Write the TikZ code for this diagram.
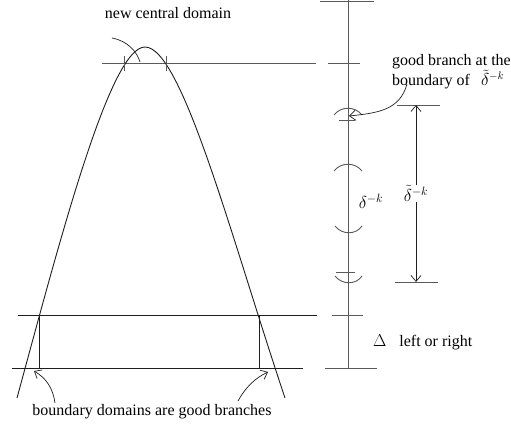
\documentclass[tikz,border=0pt]{standalone}
\usepackage{fontspec}
\setmainfont{Liberation Serif}
\usetikzlibrary{arrows.meta, positioning, calc}
\definecolor{linegray}{HTML}{5A5A5A}
\definecolor{inkdark}{HTML}{1E1E1E}
\tikzset{
  rule/.style={draw=linegray, line width=0.9pt},
  bound/.style={draw=inkdark, line width=0.9pt},
  note/.style={font=\fontsize{16}{16}\selectfont, inner sep=0pt},
  mathlbl/.style={font=\fontsize{18}{18}\selectfont, inner sep=1pt},
  pointer/.style={draw=inkdark, line width=0.7pt},
  barb/.style={-{Straight Barb[length=6pt,width=10pt]}, draw=inkdark, line width=0.7pt},
}
% small bracket arcs on the axis
\newcommand{\archup}[1]{\draw[rule] (334,#1+6) .. controls (341,#1-3) and (355,#1-3) .. (362,#1+6);}
\newcommand{\archdown}[1]{\draw[rule] (335,#1-5) .. controls (342,#1+4) and (356,#1+4) .. (362,#1-5);}

\begin{document}
\begin{tikzpicture}[x=1pt, y=-1pt]
  \useasboundingbox (0,0) rectangle (511,427);

  % ── Coordinates ──────────────────────────────────────────────────────────
  \coordinate (axtop) at (348,0);
  \coordinate (axbot) at (348,368);
  \coordinate (toplA) at (102,63);   \coordinate (toplB) at (316,63);
  \coordinate (midlA) at (18,315);   \coordinate (midlB) at (317,315);
  \coordinate (botlA) at (12,368);   \coordinate (botlB) at (303,368);
  \coordinate (lbndT) at (39,315);   \coordinate (lbndB) at (39,368);
  \coordinate (rbndT) at (259,315);  \coordinate (rbndB) at (259,368);
  \coordinate (dtTop) at (416,105);  \coordinate (dtBot) at (416,282);
  \coordinate (crvL) at (17,398);
  \coordinate (crvTop) at (145,47);
  \coordinate (crvR) at (285,398);

  % ── Horizontal levels ────────────────────────────────────────────────────
  \draw[rule] (toplA) -- (toplB);
  \draw[bound] (midlA) -- (midlB);
  \draw[bound] (botlA) -- (botlB);

  % ── Central branch curve ─────────────────────────────────────────────────
  \draw[bound] (crvL) .. controls (60,240) and (110,47) .. (crvTop)
                      .. controls (182,47) and (232,240) .. (crvR);
  \draw[rule] (124,56) -- (124,71);
  \draw[rule] (166,56) -- (166,71);

  % ── Boundary domains ─────────────────────────────────────────────────────
  \draw[bound] (lbndT) -- (lbndB);
  \draw[bound] (rbndT) -- (rbndB);

  % ── Axis with ticks ──────────────────────────────────────────────────────
  \draw[rule] (axtop) -- (axbot);
  \draw[rule] (320,1.5) -- (374,1.5);
  \draw[rule] (328,63) -- (360,63);
  \draw[rule] (339,120) -- (355,120);
  \draw[rule] (336,272) -- (355,272);
  \draw[rule] (332,315) -- (363,315);
  \draw[rule] (325,368) -- (377,368);
  \archup{109}
  \archup{165}
  \archdown{231}
  \archdown{281}

  % ── delta-tilde span ─────────────────────────────────────────────────────
  \draw[rule] (397,105) -- (440,105);
  \draw[rule] (395,282) -- (438,282);
  \draw[barb, {Straight Barb[length=6pt,width=10pt]}-{Straight Barb[length=6pt,width=10pt]}]
    (dtBot) -- node[mathlbl, fill=white] (dtlbl) {$\tilde{\delta}^{-k}$} (dtTop);
  \node[mathlbl] (dlbl) at (371,201) {$\delta^{-k}$};

  % ── Labels ───────────────────────────────────────────────────────────────
  \node[note] (newdom) at (168,13) {new central domain};
  \node[note, align=left, anchor=north west] (goodbr) at (392,54)
    {good branch at the\\boundary of \;\,$\tilde{\delta}^{-k}$};
  \node[note, anchor=west] (delta) at (373,342) {$\Delta$\;\; left or right};
  \node[note] (bdom) at (152,412) {boundary domains are good branches};

  % ── Pointers ─────────────────────────────────────────────────────────────
  \coordinate (ndtip) at (140,62);
  \coordinate (gbtip) at (349,116);
  \coordinate (lbtip) at (34,371);
  \coordinate (rbtip) at (268,372);
  \draw[pointer] (112,38) .. controls (128,41) and (137,52) .. (ndtip);
  \draw[barb] (407,84) .. controls (400,110) and (378,113) .. (gbtip);
  \draw[barb] (55,403) .. controls (53,388) and (46,378) .. (lbtip);
  \draw[barb] (238,401) .. controls (245,388) and (255,378) .. (rbtip);
\end{tikzpicture}
\end{document}
